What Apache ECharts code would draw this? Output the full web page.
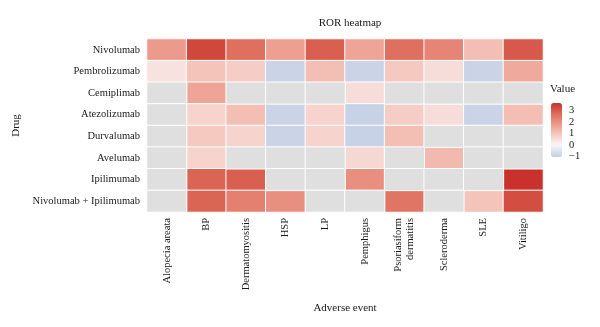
<!DOCTYPE html>
<html>
<head>
<meta charset="utf-8">
<script src="https://cdn.jsdelivr.net/npm/echarts@6/dist/echarts.min.js"></script>
<style>html,body{margin:0;padding:0;background:#fff}#c{width:600px;height:327px}</style>
</head>
<body>
<div id="c"></div>
<script>
const events = ['Alopecia areata','BP','Dermatomyositis','HSP','LP','Pemphigus','Psoriasiform\ndermatitis','Scleroderma','SLE','Vitiligo'];
const drugs = ['Nivolumab','Pembrolizumab','Cemiplimab','Atezolizumab','Durvalumab','Avelumab','Ipilimumab','Nivolumab + Ipilimumab'];
// ROR values (log scale), null = not available
const nivolumab     = [1.8, 3.3, 2.6, 1.7, 2.9, 1.6, 2.6, 2.2, 1.1, 3.0];
const pembrolizumab = [0.4, 1.0, 0.8, -0.9, 1.1, -0.9, 0.9, 0.5, -0.9, 1.5];
const cemiplimab    = [null, 1.6, null, null, null, 0.5, null, null, null, null];
const atezolizumab  = [null, 0.7, 1.1, -0.9, 0.7, -0.95, 0.8, 0.5, -0.9, 1.1];
const durvalumab    = [null, 0.9, 0.7, -0.9, 0.7, -0.95, 1.1, null, null, null];
const avelumab      = [null, 0.7, null, null, null, 0.6, null, 1.2, null, null];
const ipilimumab    = [null, 2.8, 2.9, null, null, 2.0, null, null, null, 3.6];
const nivoIpi       = [null, 2.8, 2.3, 2.0, null, null, 2.5, null, 1.0, 3.2];
const rows = [nivolumab, pembrolizumab, cemiplimab, atezolizumab, durvalumab, avelumab, ipilimumab, nivoIpi];
const legendTicks = [-1, 0, 1, 2, 3];
const vMin = -1.05, vMax = 3.63;

const valData = [], naData = [];
rows.forEach((r, yi) => r.forEach((v, xi) => {
  if (v === null) naData.push([xi, yi, 0]); else valData.push([xi, yi, v]);
}));

// colour ramp in CIELab: blue -> white (at 0) -> red
function hex(c){return [parseInt(c.slice(1,3),16),parseInt(c.slice(3,5),16),parseInt(c.slice(5,7),16)];}
function toLin(c){c/=255;return c<=0.04045?c/12.92:Math.pow((c+0.055)/1.055,2.4);}
function fromLin(c){c=c<=0.0031308?12.92*c:1.055*Math.pow(c,1/2.4)-0.055;return Math.max(0,Math.min(255,Math.round(c*255)));}
function rgb2lab(h){const [r,g,b]=hex(h).map(toLin);
  let x=(r*0.4124+g*0.3576+b*0.1805)/0.95047,y=(r*0.2126+g*0.7152+b*0.0722),z=(r*0.0193+g*0.1192+b*0.9505)/1.08883;
  const f=t=>t>0.008856?Math.cbrt(t):7.787*t+16/116;x=f(x);y=f(y);z=f(z);
  return [116*y-16,500*(x-y),200*(y-z)];}
function lab2rgb(L){let y=(L[0]+16)/116,x=L[1]/500+y,z=y-L[2]/200;
  const fi=t=>t*t*t>0.008856?t*t*t:(t-16/116)/7.787;x=fi(x)*0.95047;y=fi(y);z=fi(z)*1.08883;
  const r=x*3.2406+y*-1.5372+z*-0.4986,g=x*-0.9689+y*1.8758+z*0.0415,b=x*0.0557+y*-0.2040+z*1.0570;
  return 'rgb('+[r,g,b].map(fromLin).join(',')+')';}
function mix(a,b,t){const A=rgb2lab(a),B=rgb2lab(b);return lab2rgb(A.map((x,i)=>x+(B[i]-x)*t));}
const low='#c3cee4', mid='#f7f7f7', high='#c8302a';
const stops=[]; const N=47;
for(let i=0;i<=N;i++){const v=vMin+(vMax-vMin)*i/N; stops.push(v<0?mix(mid,low,-v/(-vMin)):mix(mid,high,v/vMax));}

const font = 'Liberation Serif';
const tc = '#1a1a1a';
const chart = echarts.init(document.getElementById('c'));
chart.setOption({
  animation:false,
  textStyle:{fontFamily:font,color:tc},
  title:[
    {text:'ROR heatmap',left:345,textAlign:'center',top:13,textStyle:{fontFamily:font,fontSize:11,fontWeight:'normal',color:tc}},
    {text:'Value',left:550,top:84,padding:0,textStyle:{fontFamily:font,fontSize:11,fontWeight:'normal',color:tc}}
  ],
  grid:[
    {left:147,right:57,top:39,bottom:115},
    {left:551,top:103,width:11,height:54}
  ],
  xAxis:[
    {type:'category',data:events,gridIndex:0,position:'bottom',
     axisLine:{show:false},axisTick:{show:false},splitLine:{show:false},
     axisLabel:{rotate:90,margin:6,fontFamily:font,fontSize:10.5,color:tc,lineHeight:12,interval:0},
     name:'Adverse event',nameLocation:'middle',nameGap:91,nameTextStyle:{fontFamily:font,fontSize:11,color:tc}},
    {type:'value',gridIndex:1,show:false,min:0,max:1}
  ],
  yAxis:[
    {type:'category',data:drugs,inverse:true,gridIndex:0,
     axisLine:{show:false},axisTick:{show:false},splitLine:{show:false},
     axisLabel:{margin:7,fontFamily:font,fontSize:10.5,color:tc},
     name:'Drug',nameLocation:'middle',nameGap:118,nameTextStyle:{fontFamily:font,fontSize:11,color:tc}},
    {type:'value',gridIndex:1,position:'right',min:vMin,max:vMax,
     axisLine:{show:false},splitLine:{show:false},
     axisTick:{show:true,inside:true,length:2,lineStyle:{color:'#fff',width:1},customValues:legendTicks},
     axisLabel:{customValues:legendTicks,margin:7,fontFamily:font,fontSize:10.5,color:tc,
       formatter:v=>String(v).replace('-','\u2212')}},
    {type:'value',gridIndex:1,position:'left',min:vMin,max:vMax,
     axisLine:{show:false},splitLine:{show:false},axisLabel:{show:false},
     axisTick:{show:true,inside:true,length:2,lineStyle:{color:'#fff',width:1},customValues:legendTicks}}
  ],
  visualMap:{type:'continuous',min:vMin,max:vMax,seriesIndex:0,calculable:false,
    left:551,top:103,itemWidth:11,itemHeight:54,padding:0,text:null,showLabel:false,
    inRange:{color:stops},z:1},
  series:[
    {type:'heatmap',data:valData,xAxisIndex:0,yAxisIndex:0,itemStyle:{borderColor:'#fff',borderWidth:1}},
    {type:'heatmap',data:naData,xAxisIndex:0,yAxisIndex:0,itemStyle:{color:'#dfdfdf',borderColor:'#fff',borderWidth:1}},
    {type:'scatter',data:[],xAxisIndex:1,yAxisIndex:1,z:10}
  ]
});
</script>
</body>
</html>
